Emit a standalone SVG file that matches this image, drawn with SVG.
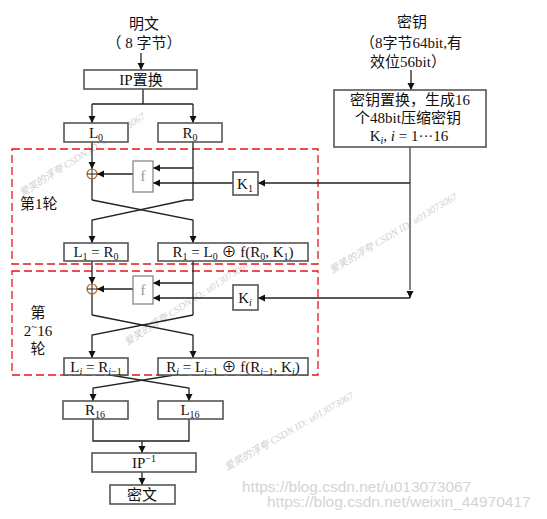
<svg xmlns="http://www.w3.org/2000/svg" width="547" height="519" viewBox="0 0 547 519">
<style>
  .t { font-family: "Liberation Serif", "Noto Sans CJK SC", serif; font-size: 15px; fill: #111; }
  .c { text-anchor: middle; }
  .sub { font-size: 10px; }
  .box { fill: #fff; stroke: #555; stroke-width: 1.6; }
  .fbox { fill: #fff; stroke: #888; stroke-width: 1.3; }
  .ln { fill: none; stroke: #222; stroke-width: 1.3; }
  .arr { fill: none; stroke: #222; stroke-width: 1.3; marker-end: url(#ah); }
  .keyln { fill: none; stroke: #666; stroke-width: 1.6; }
  .round { fill: none; stroke: #e8141a; stroke-width: 1.3; stroke-dasharray: 8 4; }
  .wm { font-family: "Liberation Serif", "Noto Sans CJK SC", serif; font-size: 10px; fill: #cfcfcf; font-style: italic; }
  .url { font-family: "Liberation Sans", Arial, sans-serif; font-size: 15.5px; fill: #d4d4d4; }
</style>
<defs>
  <marker id="ah" markerUnits="userSpaceOnUse" markerWidth="8" markerHeight="8" refX="7" refY="4" orient="auto">
    <path d="M0,0.5 L7,4 L0,7.5 z" fill="#111"/>
  </marker>
</defs>
<rect width="547" height="519" fill="#fff"/>

<!-- watermarks -->
<g id="watermarks">
  <text class="wm" transform="translate(22,197) rotate(-32.5)">爱笑的浮夸 CSDN ID: u013073067</text>
  <text class="wm" transform="translate(127,346) rotate(-33)">爱笑的浮夸 CSDN ID: u013073067</text>
  <text class="wm" transform="translate(332,274) rotate(-31)">爱笑的浮夸 CSDN ID: u013073067</text>
  <text class="wm" transform="translate(227,471) rotate(-30)">爱笑的浮夸 CSDN ID: u013073067</text>
  <text class="url" x="242" y="492">https://blog.csdn.net/u013073067</text>
  <text class="url" x="267" y="507">https://blog.csdn.net/weixin_44970417</text>
</g>

<!-- round frames -->
<g id="round1">
  <rect class="round" x="12" y="149" width="306" height="115"/>
  <text class="t" x="20" y="209" font-size="16">第1轮</text>
</g>
<g id="round2">
  <rect class="round" x="12" y="271" width="306" height="104"/>
  <text class="t c" x="38" y="318" font-size="16">第</text>
  <text class="t c" x="38" y="336" font-size="16">2<tspan font-size="11" dy="-6">~</tspan><tspan dy="6">16</tspan></text>
  <text class="t c" x="38" y="354" font-size="16">轮</text>
</g>

<!-- connectors -->
<g id="connectors">
  <path class="arr" d="M141,53 V70"/>
  <path class="ln" d="M143,89 V104 M92,104 H193"/>
  <path class="arr" d="M92,104 V123"/>
  <path class="arr" d="M193,104 V123"/>
  <path class="arr" d="M411,70 V90"/>
  <!-- key line -->
  <path class="keyln" d="M410,147 V290"/>
  <path class="arr" d="M410,291 V298" stroke="#666"/>
  <path class="arr" d="M410,183 H258"/>
  <path class="arr" d="M410,298 H258"/>

  <!-- round 1 -->
  <path class="arr" d="M92,142 V169"/>
  <path class="arr" d="M133,174 H97"/>
  <path class="ln" d="M193,142 V200"/>
  <path class="arr" d="M193,168 H153"/>
  <path class="arr" d="M233,183 H153"/>
  <path class="ln" d="M92,179 V200"/>
  <path class="arr" d="M92,200 L193,220 V243"/>
  <path class="arr" d="M193,200 H186 L92,220 V243"/>

  <!-- round 2 -->
  <path class="arr" d="M92,261 V284"/>
  <path class="arr" d="M133,289 H97"/>
  <path class="ln" d="M193,261 V315"/>
  <path class="arr" d="M193,283 H153"/>
  <path class="arr" d="M233,298 H153"/>
  <path class="ln" d="M92,294 V315"/>
  <path class="arr" d="M92,315 L193,335 V358"/>
  <path class="arr" d="M193,315 L92,335 V358"/>

  <!-- final swap -->
  <path class="arr" d="M92,372 L189,388 V401"/>
  <path class="arr" d="M193,372 L93,388 V401"/>
  <path class="ln" d="M93,419 V441 H189 V419"/>
  <path class="arr" d="M142,441 V453"/>
  <path class="arr" d="M142,472 V485"/>
</g>

<!-- nodes -->
<g id="plaintext">
  <text class="t c" x="144" y="29">明文</text>
  <text class="t c" x="144" y="48">（ 8 字节）</text>
</g>
<g id="key">
  <text class="t c" x="412" y="27">密钥</text>
  <text class="t c" x="411" y="48">（8字节64bit,有</text>
  <text class="t c" x="408" y="67">效位56bit）</text>
</g>
<g id="ip">
  <rect class="box" x="84" y="70" width="113" height="19"/>
  <text class="t c" x="141" y="85">IP置换</text>
</g>
<g id="keygen">
  <rect class="box" x="334" y="90" width="152" height="57"/>
  <text class="t c" x="410" y="105">密钥置换，生成16</text>
  <text class="t c" x="408" y="123">个48bit压缩密钥</text>
  <text class="t c" x="409" y="141">K<tspan class="sub" dy="3" font-style="italic">i</tspan><tspan dy="-3">, </tspan><tspan font-style="italic">i</tspan> = 1···16</text>
</g>
<g id="L0">
  <rect class="box" x="64" y="123" width="64" height="19"/>
  <text class="t c" x="96" y="138">L<tspan class="sub" dy="3">0</tspan></text>
</g>
<g id="R0">
  <rect class="box" x="158" y="123" width="64" height="19"/>
  <text class="t c" x="190" y="138">R<tspan class="sub" dy="3">0</tspan></text>
</g>

<g id="xor1">
  <circle cx="92" cy="174" r="5" fill="#fff" stroke="#c06a1a" stroke-width="1.2"/>
  <path d="M87,174 H97 M92,169 V179" stroke="#222" stroke-width="1"/>
</g>
<g id="f1">
  <rect class="fbox" x="133" y="161" width="20" height="31"/>
  <text class="t c" x="143" y="181" style="fill:#999">f</text>
</g>
<g id="K1">
  <rect class="box" x="233" y="172" width="25" height="23"/>
  <text class="t c" x="245" y="189">K<tspan class="sub" dy="3">1</tspan></text>
</g>
<g id="L1">
  <rect class="box" x="64" y="243" width="64" height="18"/>
  <text class="t c" x="96" y="257">L<tspan class="sub" dy="3">1</tspan><tspan dy="-3"> = R</tspan><tspan class="sub" dy="3">0</tspan></text>
</g>
<g id="R1">
  <rect class="box" x="158" y="243" width="150" height="18"/>
  <text class="t c" x="233" y="257">R<tspan class="sub" dy="3">1</tspan><tspan dy="-3"> = L</tspan><tspan class="sub" dy="3">0</tspan><tspan dy="-3"> ⊕ f(R</tspan><tspan class="sub" dy="3">0</tspan><tspan dy="-3">, K</tspan><tspan class="sub" dy="3">1</tspan><tspan dy="-3">)</tspan></text>
</g>

<g id="xor2">
  <circle cx="92" cy="289" r="5" fill="#fff" stroke="#c06a1a" stroke-width="1.2"/>
  <path d="M87,289 H97 M92,284 V294" stroke="#222" stroke-width="1"/>
</g>
<g id="f2">
  <rect class="fbox" x="133" y="276" width="20" height="28"/>
  <text class="t c" x="143" y="295" style="fill:#999">f</text>
</g>
<g id="Ki">
  <rect class="box" x="233" y="285" width="25" height="25"/>
  <text class="t c" x="245" y="303">K<tspan class="sub" dy="3" font-style="italic">i</tspan></text>
</g>
<g id="Li">
  <rect class="box" x="64" y="358" width="64" height="17"/>
  <text class="t c" x="96" y="372">L<tspan class="sub" dy="3" font-style="italic">i</tspan><tspan dy="-3"> = R</tspan><tspan class="sub" dy="3"><tspan font-style="italic">i</tspan>−1</tspan></text>
</g>
<g id="Ri">
  <rect class="box" x="158" y="358" width="150" height="17"/>
  <text class="t c" x="233" y="372">R<tspan class="sub" dy="3" font-style="italic">i</tspan><tspan dy="-3"> = L</tspan><tspan class="sub" dy="3"><tspan font-style="italic">i</tspan>−1</tspan><tspan dy="-3"> ⊕ f(R</tspan><tspan class="sub" dy="3"><tspan font-style="italic">i</tspan>−1</tspan><tspan dy="-3">, K</tspan><tspan class="sub" dy="3" font-style="italic">i</tspan><tspan dy="-3">)</tspan></text>
</g>

<g id="R16">
  <rect class="box" x="63" y="401" width="65" height="18"/>
  <text class="t c" x="95" y="415">R<tspan class="sub" dy="3">16</tspan></text>
</g>
<g id="L16">
  <rect class="box" x="158" y="401" width="65" height="18"/>
  <text class="t c" x="190" y="415">L<tspan class="sub" dy="3">16</tspan></text>
</g>
<g id="IPinv">
  <rect class="box" x="92" y="453" width="104" height="19"/>
  <text class="t c" x="144" y="468">IP<tspan class="sub" dy="-6">−1</tspan></text>
</g>
<g id="ciphertext">
  <rect class="box" x="110" y="485" width="65" height="19"/>
  <text class="t c" x="142" y="500">密文</text>
</g>
</svg>
